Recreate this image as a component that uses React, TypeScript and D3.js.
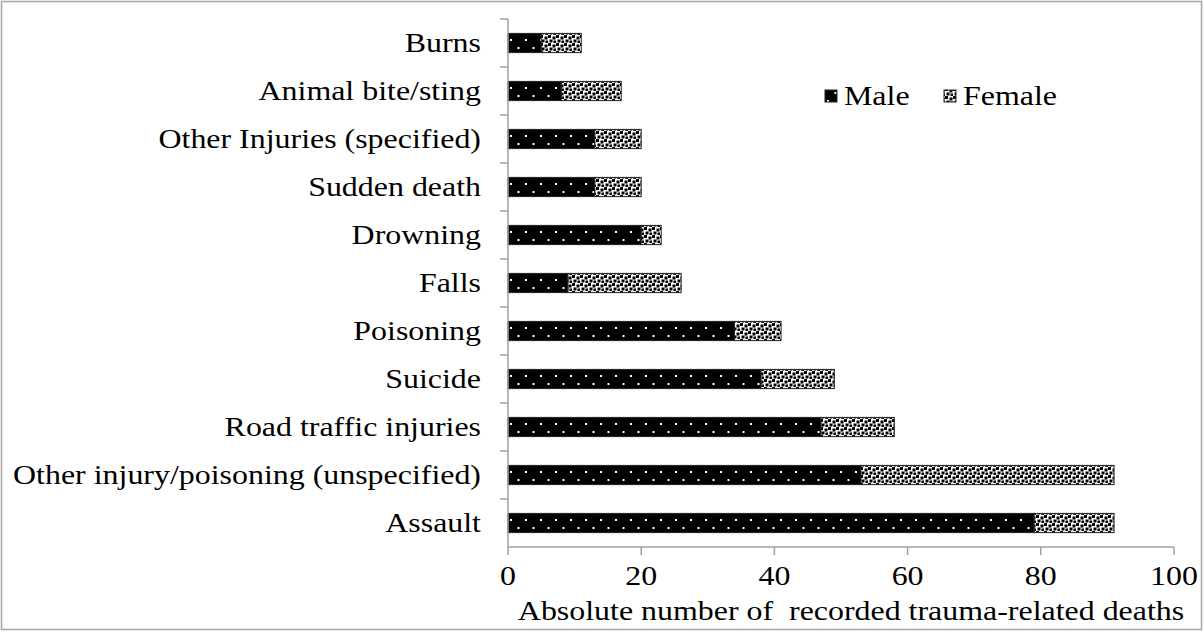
import React, { useEffect, useRef } from "react";
import * as d3 from "d3";

const categories = [
  "Burns",
  "Animal bite/sting",
  "Other Injuries (specified)",
  "Sudden death",
  "Drowning",
  "Falls",
  "Poisoning",
  "Suicide",
  "Road traffic injuries",
  "Other injury/poisoning (unspecified)",
  "Assault",
];
const male = [5, 8, 13, 13, 20, 9, 34, 38, 47, 53, 79];
const female = [6, 9, 7, 7, 3, 17, 7, 11, 11, 38, 12];
const xTicks = [0, 20, 40, 60, 80, 100];

const App = () => {
  const svgRef = useRef<SVGSVGElement>(null);

  useEffect(() => {
    const W = 1204;
    const H = 632;
    const margin = { top: 19, left: 508 };
    const width = 1174 - margin.left;
    const height = 547 - margin.top;
    const font = "'Liberation Serif', 'Times New Roman', serif";
    const fs = 28;
    const sx = 1.14; // text in the source looks slightly stretched sideways

    const svg = d3.select(svgRef.current);
    svg.selectAll("*").remove();

    // patterns
    const defs = svg.append("defs");
    const pm = defs
      .append("pattern")
      .attr("id", "male")
      .attr("patternUnits", "userSpaceOnUse")
      .attr("width", 15)
      .attr("height", 16);
    pm.append("rect").attr("width", 15).attr("height", 16).attr("fill", "#000");
    pm.append("rect").attr("x", 2).attr("y", 4).attr("width", 2).attr("height", 2).attr("fill", "#fff");
    pm.append("rect").attr("x", 9.5).attr("y", 12).attr("width", 2).attr("height", 2).attr("fill", "#fff");

    const pf = defs
      .append("pattern")
      .attr("id", "female")
      .attr("patternUnits", "userSpaceOnUse")
      .attr("width", 8)
      .attr("height", 8);
    pf.append("rect").attr("width", 8).attr("height", 8).attr("fill", "#fff");
    [
      [0, 0],
      [4.5, 1.5],
      [1.5, 4.5],
      [5.5, 5.5],
    ].forEach(([x, y]) => {
      pf.append("rect").attr("x", x).attr("y", y).attr("width", 3).attr("height", 3).attr("fill", "#000");
    });

    // border
    svg
      .append("rect")
      .attr("x", 1.5)
      .attr("y", 1.5)
      .attr("width", W - 4)
      .attr("height", H - 4)
      .attr("fill", "#fff")
      .attr("stroke", "#a6a6a6")
      .attr("stroke-width", 1.5);

    const g = svg.append("g").attr("transform", `translate(${margin.left},${margin.top})`);

    const label = (parent, tx: number, ty: number, txt: string, anchor: string) =>
      parent
        .append("text")
        .attr("transform", `translate(${tx},${ty}) scale(${sx},1)`)
        .attr("dy", "0.33em")
        .attr("text-anchor", anchor)
        .attr("font-family", font)
        .attr("font-size", fs)
        .attr("fill", "#000")
        .style("white-space", "pre")
        .text(txt);

    const x = d3.scaleLinear().domain([0, 100]).range([0, width]);
    const y = d3.scaleBand().domain(categories).range([0, height]).paddingInner(0.6).paddingOuter(0.3);
    const band = d3.scaleBand().domain(categories).range([0, height]);

    // bars
    const rows = categories.map((c, i) => ({ c, m: male[i], f: female[i] }));
    g.selectAll(".m")
      .data(rows)
      .join("rect")
      .attr("x", x(0))
      .attr("y", (d) => y(d.c)!)
      .attr("width", (d) => x(d.m) - x(0))
      .attr("height", y.bandwidth())
      .attr("fill", "url(#male)")
      .attr("stroke", "#222")
      .attr("stroke-width", 1);
    g.selectAll(".f")
      .data(rows)
      .join("rect")
      .attr("x", (d) => x(d.m))
      .attr("y", (d) => y(d.c)!)
      .attr("width", (d) => x(d.m + d.f) - x(d.m))
      .attr("height", y.bandwidth())
      .attr("fill", "url(#female)")
      .attr("stroke", "#222")
      .attr("stroke-width", 1);

    const axisColor = "#a0a0a0";

    // y axis
    g.append("line")
      .attr("x1", 0)
      .attr("x2", 0)
      .attr("y1", 0)
      .attr("y2", height)
      .attr("stroke", axisColor)
      .attr("stroke-width", 1.5);
    categories.forEach((c) => {
      g.append("line")
        .attr("x1", -8)
        .attr("x2", 0)
        .attr("y1", band(c)!)
        .attr("y2", band(c)!)
        .attr("stroke", axisColor)
        .attr("stroke-width", 1.5);
      label(g, -27, y(c)! + y.bandwidth() / 2, c, "end");
    });

    // x axis
    g.append("line")
      .attr("x1", 0)
      .attr("x2", width)
      .attr("y1", height)
      .attr("y2", height)
      .attr("stroke", axisColor)
      .attr("stroke-width", 1.5);
    xTicks.forEach((t) => {
      g.append("line")
        .attr("x1", x(t))
        .attr("x2", x(t))
        .attr("y1", height)
        .attr("y2", height + 8)
        .attr("stroke", axisColor)
        .attr("stroke-width", 1.5);
      label(g, x(t), height + 29, String(t), "middle");
    });
    label(g, width / 2 + 10, height + 64, "Absolute number of  recorded trauma-related deaths", "middle");

    // legend
    const leg = svg.append("g").attr("transform", "translate(825,96)");
    [
      { name: "Male", fill: "url(#male)", x: 0 },
      { name: "Female", fill: "url(#female)", x: 119 },
    ].forEach((l) => {
      leg
        .append("rect")
        .attr("x", l.x)
        .attr("y", -6)
        .attr("width", 12)
        .attr("height", 12)
        .attr("fill", l.fill)
        .attr("stroke", "#222")
        .attr("stroke-width", 1);
      label(leg, l.x + 19, 0, l.name, "start");
    });
  }, []);

  return <svg ref={svgRef} width={1204} height={632} style={{ position: "absolute", left: 0, top: 0 }}></svg>;
};

export default App;
